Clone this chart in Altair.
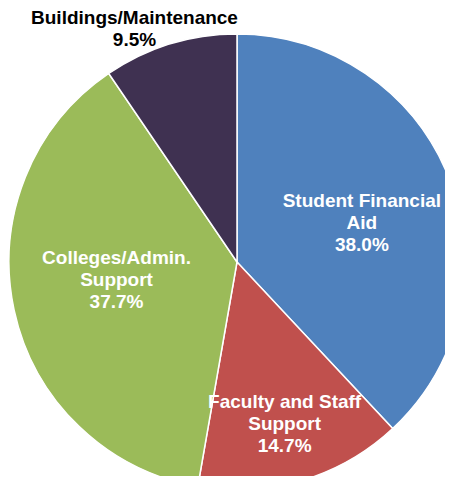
import altair as alt
import pandas as pd

categories = ["Student Financial Aid", "Faculty and Staff Support", "Colleges/Admin. Support", "Buildings/Maintenance"]
display_labels = ["Student Financial\nAid", "Faculty and Staff\nSupport", "Colleges/Admin.\nSupport", "Buildings/Maintenance"]
values = [38.0, 14.7, 37.7, 9.5]
colors = ["#4F81BD", "#C0504D", "#9BBB59", "#3F3151"]

df = pd.DataFrame({
    "category": categories,
    "display": display_labels,
    "value": values,
    "order": list(range(len(categories))),
})

cx, cy, R = 229, 254, 228

base = alt.Chart(df).transform_calculate(
    lbl="datum.display + '\\n' + format(datum.value, '.1f') + '%'"
)

theta = alt.Theta("value:Q", stack=True, scale=alt.Scale(range=[0, 6.283185307179586]))
order = alt.Order("order:Q")

arcs = base.mark_arc(stroke="white", strokeWidth=1.5).encode(
    theta=theta,
    order=order,
    color=alt.Color("category:N", scale=alt.Scale(domain=categories, range=colors), legend=None),
    radius=alt.value(R),
    x=alt.value(cx),
    y=alt.value(cy),
)

def label(cat, r, color, dx=0, dy=0):
    return base.mark_text(
        font="Liberation Sans", fontWeight="bold", fontSize=19, lineHeight=22,
        lineBreak="\n", align="center", baseline="middle", dx=dx, dy=dy,
    ).encode(
        theta=theta,
        order=order,
        text=alt.condition(alt.datum.category == cat, "lbl:N", alt.value("")),
        radius=alt.value(r),
        x=alt.value(cx),
        y=alt.value(cy),
        color=alt.value(color),
    )

chart = alt.layer(
    arcs,
    label("Student Financial Aid", 131, "white", dx=3, dy=-13),
    label("Faculty and Staff Support", 167, "white", dx=0, dy=-20),
    label("Colleges/Admin. Support", 113, "white", dx=-10, dy=-28),
    label("Buildings/Maintenance", 243, "black", dx=-31, dy=-12),
).properties(
    width=437, height=468,
    autosize=alt.AutoSizeParams(type="none"),
    padding=0,
).configure_view(stroke=None)

chart.save("out.html", embed_options={"renderer": "svg", "actions": False})
